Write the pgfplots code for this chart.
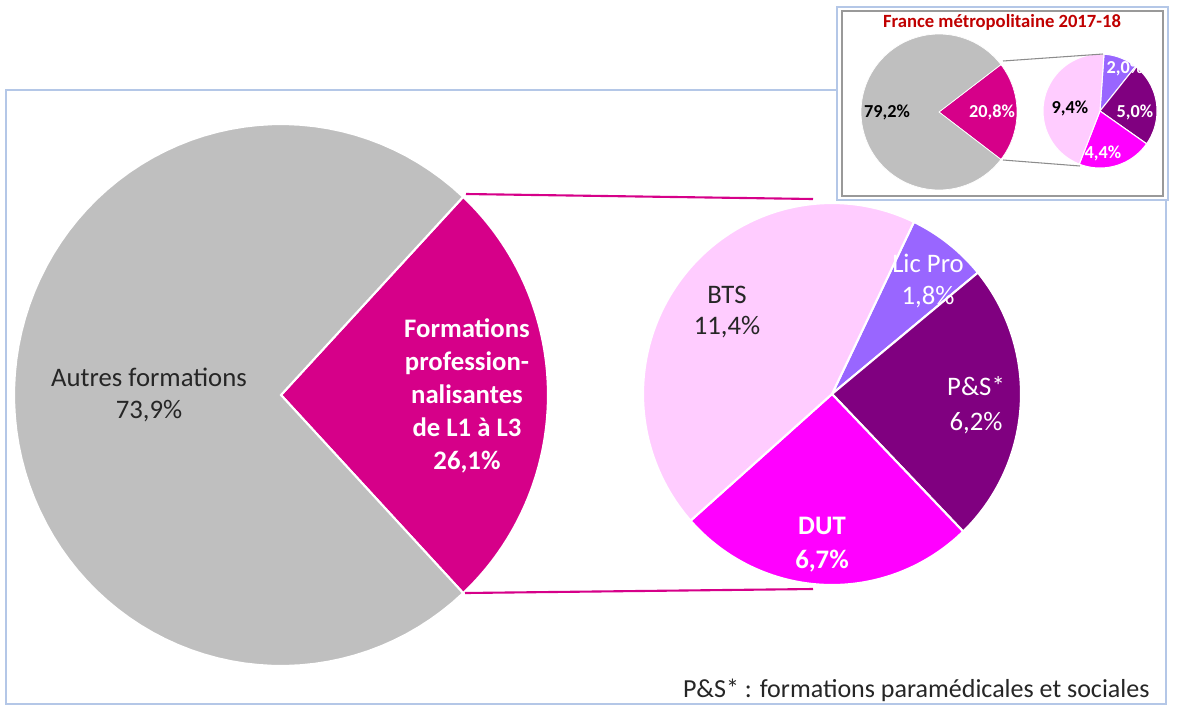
\documentclass[border=0pt]{standalone}
\usepackage{pgfplots}
\pgfplotsset{compat=1.18}
\usepackage{pgfplotstable}
\usepackage{fontspec}
\setmainfont{Carlito}

\definecolor{cGray}{RGB}{191,191,191}
\definecolor{cMag}{RGB}{214,0,137}
\definecolor{cPink}{RGB}{255,204,255}
\definecolor{cLav}{RGB}{153,102,255}
\definecolor{cPurp}{RGB}{128,0,128}
\definecolor{cFuch}{RGB}{255,0,255}
\definecolor{cFrame}{RGB}{180,199,231}
\definecolor{cTitle}{RGB}{192,0,0}
\definecolor{cText}{RGB}{38,38,38}

% main pie (share of students)
\pgfplotstableread{
label value color
Formations 26.1 cMag
Autres 73.9 cGray
}\mainpie
% detail of the professional formations
\pgfplotstableread{
label value color
LicPro 1.8 cLav
PS 6.2 cPurp
DUT 6.7 cFuch
BTS 11.4 cPink
}\mainsub
% inset: France metropolitaine 2017-18
\pgfplotstableread{
label value color
Formations 20.8 cMag
Autres 79.2 cGray
}\insetpie
\pgfplotstableread{
label value color
LicPro 2.0 cLav
PS 5.0 cPurp
DUT 4.4 cFuch
BTS 9.4 cPink
}\insetsub

% #1 table, #2 cx, #3 cy, #4 rx, #5 ry, #6 start angle, #7 border width
\newcommand{\drawpie}[7]{%
  \pgfplotstablegetrowsof{#1}\pgfmathtruncatemacro{\nrows}{\pgfplotsretval-1}%
  \def\pietotal{0}%
  \pgfplotsforeachungrouped \k in {0,...,\nrows}{%
    \pgfplotstablegetelem{\k}{value}\of{#1}%
    \pgfmathsetmacro{\pietotal}{\pietotal+\pgfplotsretval}}%
  \pgfmathsetmacro{\angA}{#6}%
  \pgfplotsforeachungrouped \k in {0,...,\nrows}{%
    \pgfplotstablegetelem{\k}{value}\of{#1}\let\val\pgfplotsretval
    \pgfplotstablegetelem{\k}{color}\of{#1}\let\col\pgfplotsretval
    \pgfmathsetmacro{\angB}{\angA-360*(\val/\pietotal)}%
    \edef\doslice{\noexpand\addplot[fill=\col, draw=white, line width=#7,
        domain=\angB:\angA, samples=90, variable=\noexpand\t]
      ({#2+#4*cos(\noexpand\t)}, {#3-#5*sin(\noexpand\t)}) -- (axis cs:#2,#3) -- cycle;}%
    \doslice
    \let\angA\angB}%
}

\begin{document}
\begin{tikzpicture}
\begin{axis}[
  x=0.01cm, y=0.01cm,
  xmin=0, xmax=1179, ymin=0, ymax=706,
  y dir=reverse,
  axis line style={draw=none}, ticks=none,
  axis background/.style={fill=white},
  clip=false,
]
% outer frame
\draw[cFrame, line width=0.55pt] (axis cs:6,90) rectangle (axis cs:1166,704);

\drawpie{\mainpie}{281}{395}{267}{271}{46.98}{0.6pt}
\drawpie{\mainsub}{832}{394}{189}{191}{64.3}{0.6pt}

% connector lines
\addplot[cMag, line width=0.6pt] coordinates {(466,194) (813,199)};
\addplot[cMag, line width=0.6pt] coordinates {(465,593) (813,589)};

\node[font=\fontsize{7.6}{9.1}\selectfont, text=cText, align=center] at (axis cs:149,395) {Autres formations\\73,9\%};
\node[font=\fontsize{7.6}{9.4}\selectfont\bfseries, text=white, align=center] at (axis cs:467,396) {Formations\\profession-\\nalisantes\\de L1 à L3\\26,1\%};
\node[font=\fontsize{7.6}{8.9}\selectfont, text=cText, align=center] at (axis cs:727,312) {BTS\\11,4\%};
\node[font=\fontsize{7.6}{9.3}\selectfont, text=white, align=center] at (axis cs:928,281) {Lic Pro\\1,8\%};
\node[font=\fontsize{7.6}{9.9}\selectfont, text=white, align=center] at (axis cs:976,405) {P\&S*\\6,2\%};
\node[font=\fontsize{7.6}{9.6}\selectfont\bfseries, text=white, align=center] at (axis cs:822,545) {DUT\\6,7\%};

\node[font=\fontsize{7.4}{8.8}\selectfont, text=cText, anchor=east] at (axis cs:1162,690) {P\&S* : formations paramédicales et sociales};

% inset box
\filldraw[fill=white, draw=cFrame, line width=0.55pt] (axis cs:837,7) rectangle (axis cs:1168,200);
\draw[black!40, line width=0.3pt] (axis cs:842,11) rectangle (axis cs:1163,196);
\node[font=\fontsize{5.3}{6.2}\selectfont\bfseries, text=cTitle] at (axis cs:1002,22) {France métropolitaine 2017-18};

\drawpie{\insetpie}{939}{112}{78}{78}{37.44}{0.2pt}
\drawpie{\insetsub}{1100}{111}{57}{57}{86}{0.3pt}
\addplot[black!45, line width=0.3pt] coordinates {(1003,61) (1103,54)};
\addplot[black!45, line width=0.3pt] coordinates {(1003,160) (1080,166)};

\begin{scope}[font=\fontsize{5.2}{6}\selectfont\bfseries]
\node[text=black] at (axis cs:887,112) {79,2\%};
\node[text=white] at (axis cs:992,112) {20,8\%};
\node[text=black] at (axis cs:1070,108) {9,4\%};
\node[text=white] at (axis cs:1125,68) {2,0\%};
\node[text=white] at (axis cs:1135,112) {5,0\%};
\node[text=white] at (axis cs:1103,153) {4,4\%};
\end{scope}
\end{axis}
\end{tikzpicture}
\end{document}
